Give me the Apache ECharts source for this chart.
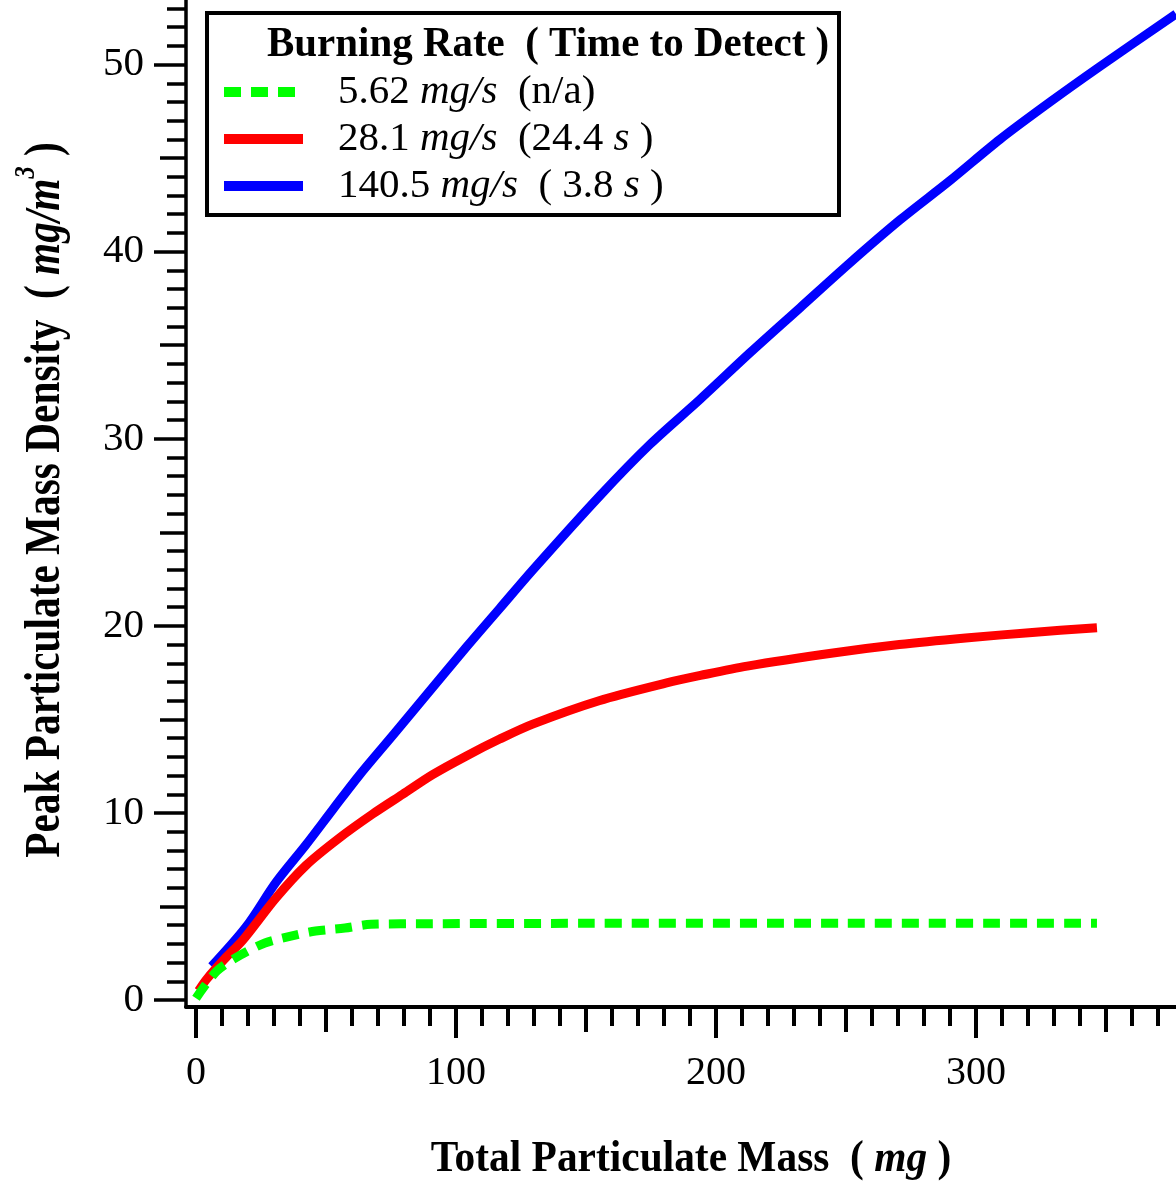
<!DOCTYPE html>
<html><head><meta charset="utf-8">
<script src="https://cdn.jsdelivr.net/npm/echarts@6/dist/echarts.min.js"></script>
<style>html,body{margin:0;padding:0;background:#fff}#c{width:1176px;height:1181px}</style>
</head><body><div id="c"></div>
<script>
// ---- data ----
const seriesNames = ['5.62', '28.1', '140.5'];
const rate562 = [[0,0.1],[8,1.55],[17,2.4],[26.5,3.05],[36.5,3.42],[46,3.69],[57.3,3.85],[67.3,4.05],[90,4.08],[150,4.1],[250,4.1],[346.5,4.1]];
const rate281 = [[1,0.5],[4,1.1],[11,2.2],[18,3.2],[30.7,5.45],[42.3,7.2],[55,8.65],[68,9.95],[79.5,11.0],[91,12.05],[104,13.05],[116.8,13.95],[129.5,14.75],[155,16.0],[181,16.95],[194,17.35],[212,17.85],[245,18.55],[270.5,19.0],[296,19.35],[321.6,19.65],[346.5,19.9]];
const rate1405 = [[6,1.8],[19.2,3.9],[30.8,6.3],[42.3,8.3],[52.7,10.2],[62.7,12.0],[76,14.2],[88,16.2],[104.2,18.9],[116.9,20.95],[129.6,23.0],[155.3,26.95],[174.6,29.7],[193.8,32.1],[213.1,34.6],[232.3,37.0],[251.5,39.4],[270.8,41.7],[290,43.8],[309.2,46.0],[328.5,48.0],[347.7,49.9],[376.9,52.7]];

const xMajorTicks = [0, 100, 200, 300];
const xMidTicks = [50, 150, 250, 350];
const xMinorTicks = [10,20,30,40,60,70,80,90,110,120,130,140,160,170,180,190,210,220,230,240,260,270,280,290,310,320,330,340,360,370];
const yMajorTicks = [0, 10, 20, 30, 40, 50];
const yMidTicks = [5, 15, 25, 35, 45];
const yMinorTicks = [1,2,3,4,6,7,8,9,11,12,13,14,16,17,18,19,21,22,23,24,26,27,28,29,31,32,33,34,36,37,38,39,41,42,43,44,46,47,48,49,51,52,53];

const legendLabels = {
  '5.62': '{p|5.62 }{i|mg/s}{n|  (n/a)}',
  '28.1': '{p|28.1 }{i|mg/s}{n|  (24.4 }{i|s}{n| )}',
  '140.5': '{p|140.5 }{i|mg/s}{n|  ( 3.8 }{i|s}{n| )}'
};
const xTitle = '{b|Total Particulate Mass  ( }{bi|mg}{b| )}';
const yTitle = '{b|Peak Particulate Mass Density  ( }{bi|mg/m}{sup|3}{b| )}';
const legendTitle = 'Burning Rate  ( Time to Detect )';

const FONT = 'Liberation Serif';
const X_MIN = -3.85, X_MAX = 376.9, Y_MIN = -0.37, Y_MAX = 53.45;

function xAxisDef(ticks, len, showLine, labels) {
  return {
    type: 'value', position: 'bottom', min: X_MIN, max: X_MAX, gridIndex: 0,
    axisLine: {show: showLine, onZero: false, lineStyle: {color: '#000', width: 4}},
    axisTick: {show: true, customValues: ticks, length: len, lineStyle: {color: '#000', width: 4}},
    axisLabel: labels ? {show: true, customValues: labels, margin: 46, color: '#000', fontFamily: FONT, fontSize: 40} : {show: false},
    splitLine: {show: false}
  };
}
function yAxisDef(ticks, len, showLine, labels) {
  return {
    type: 'value', position: 'left', min: Y_MIN, max: Y_MAX, gridIndex: 0,
    axisLine: {show: showLine, onZero: false, lineStyle: {color: '#000', width: 3.5}},
    axisTick: {show: true, customValues: ticks, length: len, lineStyle: {color: '#000', width: 3.5}},
    axisLabel: labels ? {show: true, customValues: labels, margin: 42, color: '#000', fontFamily: FONT, fontSize: 41} : {show: false},
    splitLine: {show: false}
  };
}

const chart = echarts.init(document.getElementById('c'), null, {renderer: 'canvas'});
chart.setOption({
  animation: false,
  backgroundColor: '#fff',
  textStyle: {fontFamily: FONT, color: '#000'},
  grid: {left: 186, right: 0, top: 0, bottom: 174, containLabel: false, outerBoundsMode: 'none'},
  xAxis: [
    xAxisDef(xMajorTicks, 31, true, xMajorTicks),
    xAxisDef(xMidTicks, 25, false, null),
    xAxisDef(xMinorTicks, 19, false, null)
  ],
  yAxis: [
    yAxisDef(yMajorTicks, 32, true, yMajorTicks),
    yAxisDef(yMidTicks, 26, false, null),
    yAxisDef(yMinorTicks, 19, false, null)
  ],
  legend: {
    orient: 'vertical', left: 219, top: 69, padding: 0, itemGap: 1,
    itemWidth: 79, itemHeight: 10,
    data: seriesNames,
    lineStyle: {width: 10},
    formatter: function (name) { return legendLabels[name]; },
    textStyle: {
      fontFamily: FONT, fontSize: 41, color: '#000', lineHeight: 46,
      rich: {
        p: {fontFamily: FONT, fontSize: 41, color: '#000', lineHeight: 46, padding: [0, 0, 0, 30]},
        n: {fontFamily: FONT, fontSize: 41, color: '#000', lineHeight: 46},
        i: {fontFamily: FONT, fontSize: 41, color: '#000', lineHeight: 46, fontStyle: 'italic'}
      }
    },
    selectedMode: false
  },
  series: [
    {name: seriesNames[0], type: 'line', data: rate562, showSymbol: false, symbol: 'none', smooth: 0.3,
     lineStyle: {color: '#00ff00', width: 9, type: [17, 10], cap: 'butt', join: 'round'}, itemStyle: {color: '#00ff00'}, z: 3},
    {name: seriesNames[1], type: 'line', data: rate281, showSymbol: false, symbol: 'none', smooth: 0.3,
     lineStyle: {color: '#ff0000', width: 9, type: 'solid', join: 'round'}, itemStyle: {color: '#ff0000'}, z: 2},
    {name: seriesNames[2], type: 'line', data: rate1405, showSymbol: false, symbol: 'none', smooth: 0.3,
     lineStyle: {color: '#0000ff', width: 9, type: 'solid', join: 'round'}, itemStyle: {color: '#0000ff'}, z: 1}
  ],
  graphic: [
    {type: 'rect', z: 100, shape: {x: 207, y: 13, width: 632, height: 202},
     style: {fill: 'none', stroke: '#000', lineWidth: 4}},
    {type: 'text', z: 101, x: 267, y: 45, scaleX: 0.975,
     style: {text: legendTitle, fontFamily: FONT, fontSize: 42, fontWeight: 'bold', fill: '#000', align: 'left', verticalAlign: 'middle'}},
    {type: 'text', z: 101, x: 691, y: 1159, scaleX: 0.92,
     style: {text: xTitle, align: 'center', verticalAlign: 'middle', fill: '#000',
       rich: {
         b: {fontFamily: FONT, fontSize: 45, fontWeight: 'bold', fill: '#000'},
         bi: {fontFamily: FONT, fontSize: 45, fontWeight: 'bold', fontStyle: 'italic', fill: '#000'}
       }}},
    {type: 'text', z: 101, x: 46, y: 500, rotation: Math.PI / 2, scaleX: 0.81,
     style: {text: yTitle, align: 'center', verticalAlign: 'middle', fill: '#000',
       rich: {
         b: {fontFamily: FONT, fontSize: 51, fontWeight: 'bold', fill: '#000', lineHeight: 70, verticalAlign: 'middle'},
         bi: {fontFamily: FONT, fontSize: 51, fontWeight: 'bold', fontStyle: 'italic', fill: '#000', lineHeight: 70, verticalAlign: 'middle'},
         sup: {fontFamily: FONT, fontSize: 30, fontWeight: 'bold', fontStyle: 'italic', fill: '#000', lineHeight: 30, verticalAlign: 'top'}
       }}}
  ]
});
</script>
</body></html>
